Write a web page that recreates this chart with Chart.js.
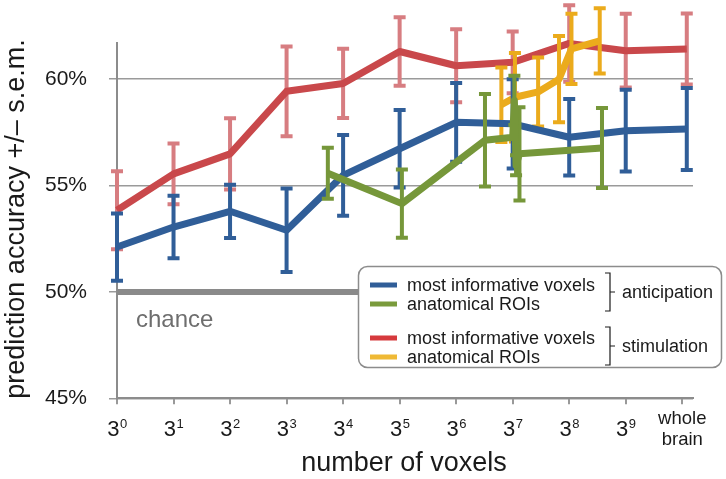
<!DOCTYPE html>
<html>
<head>
<meta charset="utf-8">
<script src="https://cdn.jsdelivr.net/npm/chart.js@4.4.1/dist/chart.umd.min.js"></script>
<style>
  html, body { margin: 0; padding: 0; background: #fff; }
  #wrap { width: 726px; height: 479px; }
</style>
</head>
<body>
<div id="wrap"><canvas id="myChart" width="726" height="479"></canvas></div>
<script>
/* Data */
const xTicks = ['0', '1', '2', '3', '4', '5', '6', '7', '8', '9', 'whole brain'];
const yTicks = [45, 50, 55, 60];
const chanceLevel = 50;

// voxel-count steps (log3), whole brain sits a little right of its tick
const voxelSteps = [0, 1, 2, 3, 4, 5, 6, 7, 8, 9, 10.08];

const antVoxelsAcc = [52.11, 53.05, 53.79, 52.9, 55.48, 56.73, 57.97, 57.9, 57.27, 57.58, 57.66];
const antVoxelsSem = [1.58, 1.47, 1.25, 1.96, 1.9, 1.82, 1.85, 2.1, 1.8, 1.92, 1.93];

const stimVoxelsAcc = [53.84, 55.55, 56.49, 59.43, 59.8, 61.3, 60.63, 60.79, 61.68, 61.34, 61.42];
const stimVoxelsSem = [1.83, 1.43, 1.67, 2.11, 1.63, 1.61, 1.72, 1.45, 1.8, 1.73, 1.67];

const antRoiX = [3.73, 5.04, 6.51, 7.0, 7.03, 7.06, 7.12, 8.58];
const antRoiAcc = [55.58, 54.15, 57.13, 57.27, 59.0, 55.95, 56.49, 56.77];
const antRoiSem = [1.2, 1.6, 2.17, null, 1.16, 0.47, 2.19, 1.88];

const stimRoiX = [6.8, 7.04, 7.45, 7.82, 8.04, 8.54];
const stimRoiAcc = [58.8, 59.15, 59.4, 60.0, 61.42, 61.8];
const stimRoiSem = [1.75, 2.08, 1.62, 2.03, 1.65, 1.53];

const seriesLabels = ['most informative voxels', 'anatomical ROIs'];
const groupLabels = ['anticipation', 'stimulation'];

const FONT = "'Liberation Sans', Arial, Helvetica, sans-serif";

function points(xs, ys) {
  return xs.map((x, i) => ({ x: x, y: ys[i] }));
}

/* Error bars, drawn under each line */
const errorBars = {
  id: 'errorBars',
  beforeDatasetDraw(chart, args) {
    const ds = chart.data.datasets[args.index];
    if (!ds.sem) return;
    const xs = chart.scales.x;
    const ys = chart.scales.y;
    const ctx = chart.ctx;
    ctx.save();
    ctx.strokeStyle = ds.errorColor;
    ctx.lineWidth = 4;
    ds.data.forEach((p, i) => {
      const e = ds.sem[i];
      if (e == null) return;
      const px = xs.getPixelForValue(p.x);
      const top = ys.getPixelForValue(p.y + e);
      const bot = ys.getPixelForValue(p.y - e);
      ctx.beginPath();
      ctx.moveTo(px, top); ctx.lineTo(px, bot);
      ctx.moveTo(px - 6, top); ctx.lineTo(px + 6, top);
      ctx.moveTo(px - 6, bot); ctx.lineTo(px + 6, bot);
      ctx.stroke();
    });
    ctx.restore();
  }
};

/* Tick labels, titles, chance label and the grouped legend */
const decorations = {
  id: 'decorations',
  afterDraw(chart) {
    const ctx = chart.ctx;
    const xs = chart.scales.x;
    ctx.save();
    ctx.fillStyle = '#1a1a1a';
    ctx.textBaseline = 'alphabetic';

    // x tick labels: 3^n and "whole brain"
    xTicks.forEach((t, i) => {
      const px = xs.getPixelForValue(i);
      if (t === 'whole brain') {
        ctx.font = '18.5px ' + FONT;
        ctx.textAlign = 'center';
        ctx.fillText('whole', px, 424);
        ctx.fillText('brain', px, 445);
        return;
      }
      ctx.textAlign = 'left';
      ctx.font = '22px ' + FONT;
      const w3 = ctx.measureText('3').width;
      ctx.font = '13px ' + FONT;
      const we = ctx.measureText(t).width;
      const x0 = px - (w3 + we) / 2;
      ctx.font = '22px ' + FONT;
      ctx.fillText('3', x0, 436);
      ctx.font = '13px ' + FONT;
      ctx.fillText(t, x0 + w3 + 0.5, 428);
    });

    // axis titles
    ctx.font = '27px ' + FONT;
    ctx.textAlign = 'center';
    ctx.textBaseline = 'middle';
    ctx.fillText('number of voxels', 404, 464);
    ctx.save();
    ctx.translate(17, 219);
    ctx.rotate(-Math.PI / 2);
    ctx.fillText('prediction accuracy +/\u2013 s.e.m.', 0, 0);
    ctx.restore();

    // chance label
    ctx.fillStyle = '#6e6e6e';
    ctx.textAlign = 'left';
    ctx.textBaseline = 'alphabetic';
    ctx.font = '24px ' + FONT;
    ctx.fillText('chance', 136, 327);

    // legend box
    ctx.beginPath();
    ctx.roundRect(358.5, 266.5, 363, 101, 9);
    ctx.fillStyle = '#fff';
    ctx.fill();
    ctx.strokeStyle = '#8c8c8c';
    ctx.lineWidth = 1.5;
    ctx.stroke();

    const legendSets = [chart.data.datasets[3], chart.data.datasets[4], chart.data.datasets[1], chart.data.datasets[2]];
    const rowY = [285, 304, 338, 357];
    ctx.font = '18px ' + FONT;
    legendSets.forEach((ds, i) => {
      ctx.fillStyle = ds.legendColor;
      ctx.fillRect(370, rowY[i] - 2.5, 27, 5);
      ctx.fillStyle = '#1a1a1a';
      ctx.fillText(ds.label, 407, rowY[i] + 6);
    });

    // braces and group labels
    ctx.strokeStyle = '#1a1a1a';
    ctx.lineWidth = 1.2;
    [[273, 311], [327, 365]].forEach((r, g) => {
      const mid = (r[0] + r[1]) / 2;
      ctx.beginPath();
      ctx.moveTo(605, r[0]); ctx.lineTo(610, r[0]); ctx.lineTo(610, r[1]); ctx.lineTo(605, r[1]);
      ctx.moveTo(610, mid); ctx.lineTo(615, mid);
      ctx.stroke();
      ctx.font = '18px ' + FONT;
      ctx.fillText(groupLabels[g], 622, mid + 6);
    });
    ctx.restore();
  }
};

function initChart() {
  const ctx = document.getElementById('myChart').getContext('2d');

  // eslint-disable-next-line no-unused-vars
  const myChart = new Chart(ctx, {
    type: 'line',
    data: {
      datasets: [{
        label: 'chance',
        data: [{ x: 0, y: chanceLevel }, { x: 4.5, y: chanceLevel }],
        borderColor: '#8a8a8a',
        borderWidth: 6,
        order: 5,
      },
      {
        label: seriesLabels[0],
        data: points(voxelSteps, stimVoxelsAcc),
        sem: stimVoxelsSem,
        borderColor: '#c9484b',
        errorColor: '#d77d81',
        legendColor: '#d63a3d',
        order: 4,
      },
      {
        label: seriesLabels[1],
        data: points(stimRoiX, stimRoiAcc),
        sem: stimRoiSem,
        borderColor: '#ebab1c',
        errorColor: '#ebab1c',
        legendColor: '#efb935',
        order: 3,
      },
      {
        label: seriesLabels[0],
        data: points(voxelSteps, antVoxelsAcc),
        sem: antVoxelsSem,
        borderColor: '#305e98',
        errorColor: '#305e98',
        legendColor: '#305e98',
        order: 2,
      },
      {
        label: seriesLabels[1],
        data: points(antRoiX, antRoiAcc),
        sem: antRoiSem,
        borderColor: '#76973a',
        errorColor: '#76973a',
        legendColor: '#7a9b3c',
        order: 1,
      }]
    },
    options: {
      responsive: false,
      animation: false,
      devicePixelRatio: 1,
      layout: { padding: { top: 43, right: 33, left: 0, bottom: 0 } },
      elements: {
        line: { borderWidth: 7, tension: 0, borderJoinStyle: 'round', borderCapStyle: 'butt' },
        point: { radius: 0, hoverRadius: 0 },
      },
      datasets: { line: { clip: false } },
      plugins: { legend: { display: false }, tooltip: { enabled: false } },
      scales: {
        x: {
          type: 'linear',
          min: 0,
          max: 10.19,
          afterBuildTicks: (s) => { s.ticks = xTicks.map((t, i) => ({ value: i })); },
          afterFit: (s) => { s.height = 80.7; },
          ticks: { display: false },
          grid: { drawOnChartArea: false, drawTicks: true, tickLength: 6, color: '#999', lineWidth: 2 },
          border: { display: true, color: '#8c8c8c', width: 2 },
        },
        y: {
          min: 45,
          max: 61.7,
          afterBuildTicks: (s) => { s.ticks = yTicks.map((v) => ({ value: v })); },
          afterFit: (s) => { s.width = 117; },
          ticks: { callback: (v) => v + '%', font: { family: FONT, size: 21 }, color: '#1a1a1a', padding: 22 },
          grid: { color: '#9a9a9a', lineWidth: 1.5, tickLength: 8 },
          border: { color: '#8c8c8c', width: 2 },
        }
      }
    },
    plugins: [errorBars, decorations],
  });
}

const app = () => {
  initChart();
};

app();
</script>
</body>
</html>
